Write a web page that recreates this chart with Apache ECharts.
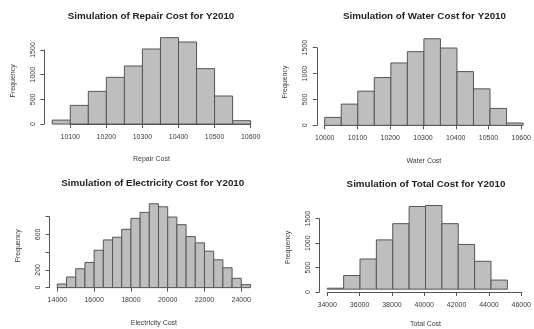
<!DOCTYPE html>
<html><head><meta charset="utf-8">
<script src="https://cdn.jsdelivr.net/npm/echarts@6/dist/echarts.min.js"></script>
<style>html,body{margin:0;padding:0;background:#fff}#c{width:534px;height:329px}</style>
</head><body><div id="c"></div>
<script>
// ---- data ----
const repairBreaks = [10050,10100,10150,10200,10250,10300,10350,10400,10450,10500,10550,10600];
const repairCounts = [80,378,662,946,1176,1520,1750,1662,1122,568,68];
const repairXTicks = [10100,10200,10300,10400,10500,10600];
const repairYTicks = [0,500,1000,1500];

const waterBreaks = [10000,10050,10100,10150,10200,10250,10300,10350,10400,10450,10500,10550,10600];
const waterCounts = [154,410,660,923,1205,1423,1673,1494,1038,705,327,45];
const waterXTicks = [10000,10100,10200,10300,10400,10500,10600];
const waterYTicks = [0,500,1000,1500];

const elecBreaks = [14000,14500,15000,15500,16000,16500,17000,17500,18000,18500,19000,19500,20000,20500,21000,21500,22000,22500,23000,23500,24000,24500];
const elecCounts = [41,120,213,284,422,538,568,658,781,849,946,912,796,710,576,505,411,314,224,105,34];
const elecXTicks = [14000,16000,18000,20000,22000,24000];
const elecYTicks = [0,200,400,600,800];
const elecYLabels = ['0','200','','600',''];

const totalBreaks = [34000,35000,36000,37000,38000,39000,40000,41000,42000,43000,44000,45000];
const totalCounts = [20,288,637,1041,1384,1747,1767,1384,945,589,192];
const totalXTicks = [34000,36000,38000,40000,42000,44000,46000];
const totalYTicks = [0,500,1000,1500];

const titles = ['Simulation of Repair Cost for Y2010','Simulation of Water Cost for Y2010','Simulation of Electricity Cost for Y2010','Simulation of Total Cost for Y2010'];
const xNames = ['Repair Cost','Water Cost','Electricity Cost','Total Cost'];

// ---- layout (plot regions in px) ----
const panels = [
  {breaks:repairBreaks, counts:repairCounts, xt:repairXTicks, yt:repairYTicks, yl:null, xlim:[10050,10600], box:[44.3,34.2,214.3,93.3], titleXY:[151,17.5]},
  {breaks:waterBreaks, counts:waterCounts, xt:waterXTicks, yt:waterYTicks, yl:null, xlim:[10000,10600], box:[316.8,35.3,214.2,93.5], titleXY:[424.5,17]},
  {breaks:elecBreaks, counts:elecCounts, xt:elecXTicks, yt:elecYTicks, yl:elecYLabels, xlim:[14000,24500], box:[49.6,200.4,208.6,90.6], titleXY:[152.8,184]},
  {breaks:totalBreaks, counts:totalCounts, xt:totalXTicks, yt:totalYTicks, yl:null, xlim:[34000,46000], box:[319.4,202.2,212.2,93.3], titleXY:[426,185]}
];

const FONT = 'Liberation Sans, Arial, sans-serif';
const TXT = '#3a3a3a';
const AX = '#555';

const option = {animation:false, backgroundColor:'#fff', title:[], grid:[], xAxis:[], yAxis:[], series:[]};

panels.forEach((p, i) => {
  const ymax = Math.max(...p.counts);
  const xr = p.xlim[1]-p.xlim[0];
  const xmin = p.xlim[0]-0.04*xr, xmax = p.xlim[1]+0.04*xr;
  const ymin = -0.04*ymax, ymaxE = 1.04*ymax;
  const [L,T,W,H] = p.box;
  const gPlot = option.grid.length;
  option.grid.push({left:L, top:T, width:W, height:H, containLabel:false});
  option.xAxis.push({gridIndex:gPlot, type:'value', min:xmin, max:xmax,
    axisLine:{show:false}, axisTick:{show:false}, axisLabel:{show:false}, splitLine:{show:false},
    name:xNames[i], nameLocation:'middle', nameGap:28.5,
    nameTextStyle:{fontFamily:FONT, fontSize:7, color:TXT}});
  option.yAxis.push({gridIndex:gPlot, type:'value', min:ymin, max:ymaxE,
    axisLine:{show:false}, axisTick:{show:false}, axisLabel:{show:false}, splitLine:{show:false},
    name:'Frequency', nameLocation:'middle', nameGap:28, nameRotate:90,
    nameTextStyle:{fontFamily:FONT, fontSize:7, color:TXT}});
  const xt0 = p.xt[0], xt1 = p.xt[p.xt.length-1];
  const yt0 = p.yt[0], yt1 = p.yt[p.yt.length-1];
  const aL = L + (xt0-xmin)/(xmax-xmin)*W;
  const aW = (xt1-xt0)/(xmax-xmin)*W;
  const aT = T + (ymaxE-yt1)/(ymaxE-ymin)*H;
  const aH = (yt1-yt0)/(ymaxE-ymin)*H;
  const gAx = option.grid.length;
  option.grid.push({left:aL, top:aT, width:aW, height:aH, containLabel:false});
  const xStep = p.xt[1]-p.xt[0], yStep = p.yt[1]-p.yt[0];
  option.xAxis.push({gridIndex:gAx, type:'value', min:xt0, max:xt1, interval:xStep, position:'bottom',
    offset:(T+H)-(aT+aH),
    axisLine:{show:true, lineStyle:{color:AX, width:1}},
    axisTick:{show:true, length:4, lineStyle:{color:AX}},
    axisLabel:{show:true, fontFamily:FONT, fontSize:7, color:TXT, margin:6, showMinLabel:true, showMaxLabel:true,
      formatter: v => String(v)},
    splitLine:{show:false}});
  const yl = p.yl;
  option.yAxis.push({gridIndex:gAx, type:'value', min:yt0, max:yt1, interval:yStep, position:'left',
    offset:aL-L,
    axisLine:{show:true, lineStyle:{color:AX, width:1}},
    axisTick:{show:true, length:4, lineStyle:{color:AX}},
    axisLabel:{show:true, rotate:90, fontFamily:FONT, fontSize:7, color:TXT, margin:8,
      formatter: v => { if (!yl) return String(v); const k = p.yt.indexOf(v); return k>=0 ? yl[k] : ''; }},
    splitLine:{show:false}});
  option.title.push({text:titles[i], left:p.titleXY[0], top:p.titleXY[1]-6, textAlign:'center', padding:0,
    textStyle:{fontFamily:FONT, fontSize:9.8, fontWeight:'bold', color:'#222'}});
  const data = p.counts.map((c, k) => [p.breaks[k], p.breaks[k+1], c]);
  option.series.push({type:'custom', xAxisIndex:gPlot, yAxisIndex:gPlot, data,
    encode:{x:[0,1], y:2},
    renderItem:(params, api) => {
      const a = api.coord([api.value(0), api.value(2)]);
      const b = api.coord([api.value(1), 0]);
      return {type:'rect', shape:{x:a[0], y:a[1], width:b[0]-a[0], height:b[1]-a[1]},
        style:{fill:'#bebebe', stroke:'#555', lineWidth:1}};
    }});
});

const chart = echarts.init(document.getElementById('c'), null, {renderer:'canvas'});
chart.setOption(option);
</script></body></html>
